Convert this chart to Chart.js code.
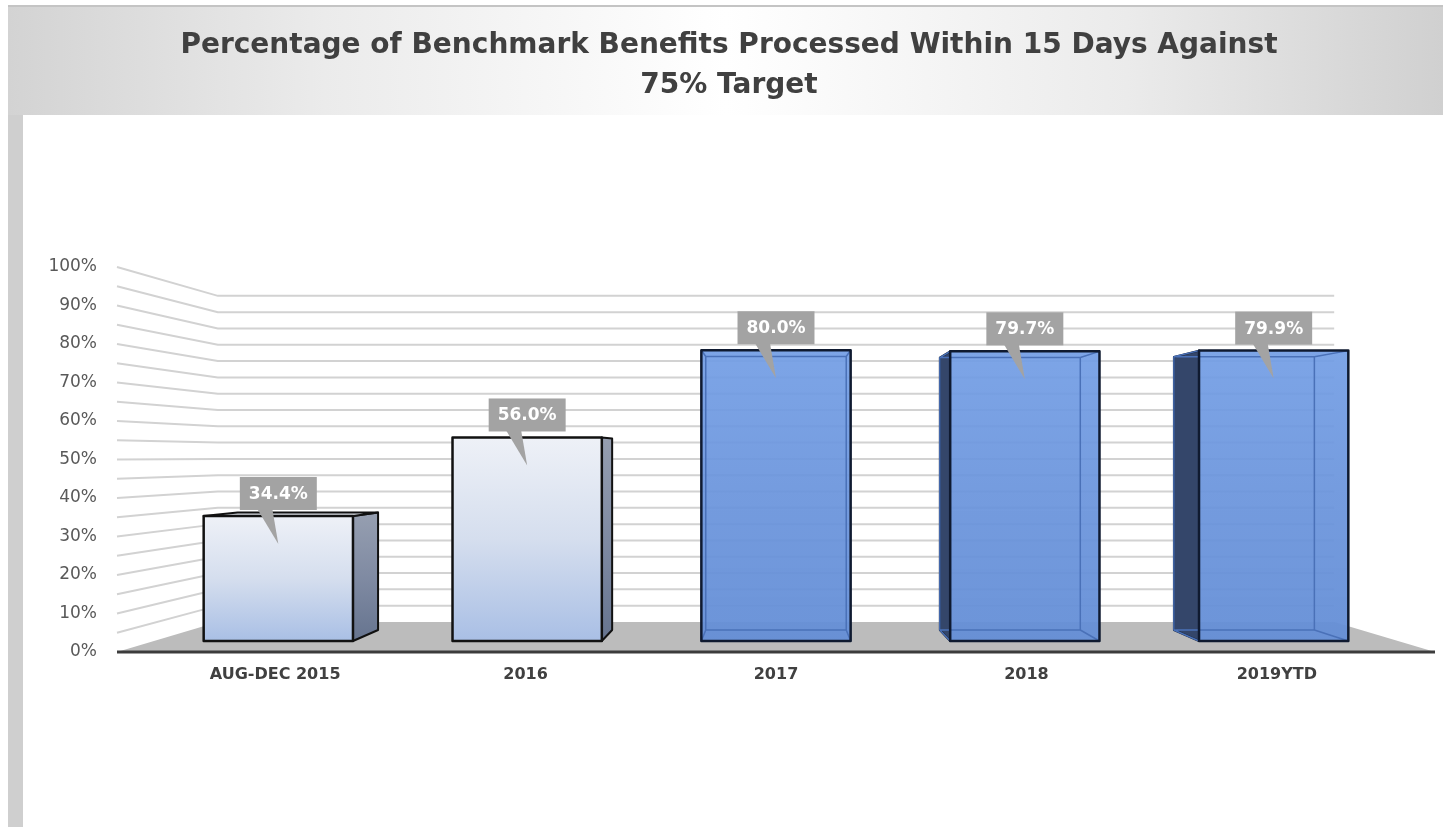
<!DOCTYPE html>
<html>
<head>
<meta charset="utf-8">
<script src="https://cdn.jsdelivr.net/npm/chart.js@4.4.1/dist/chart.umd.min.js"></script>
<style>
  html, body { margin: 0; padding: 0; background: #fff; }
  body { width: 1443px; height: 827px; position: relative; overflow: hidden; }
  .header {
    position: absolute; left: 8px; top: 5px; width: 1435px; height: 110px;
    box-sizing: border-box; border-top: 2px solid #c4c4c4;
    background: linear-gradient(to right, #d3d3d3 0%, #ebebeb 22%, #ffffff 50%, #ebebeb 78%, #d0d0d0 100%);
  }
  .strip { position: absolute; left: 8px; top: 115px; width: 15px; height: 712px; background: #cfcfcf; }
  #chart { position: absolute; left: 0; top: 0; }
</style>
</head>
<body>
<div class="header"></div>
<div class="strip"></div>
<canvas id="chart" width="1443" height="827"></canvas>
<script>
const categories = ['AUG-DEC 2015', '2016', '2017', '2018', '2019YTD'];
const percentages = [34.4, 56.0, 80.0, 79.7, 79.9];
const target = 75;
const titleLines = ['Percentage of Benchmark Benefits Processed Within 15 Days Against', '75% Target'];

// fake 3D: every point is pulled toward a vanishing point by a depth factor
const view = { eyeValue: 51, wall: 0.847, barFront: 0.944, barBack: 0.888, labels: 0.95 };

function vanishing(chart) {
  const { left, right } = chart.chartArea;
  return { vx: (left + right) / 2, vy: chart.scales.y.getPixelForValue(view.eyeValue) };
}

function project(chart, x, y, s) {
  const { vx, vy } = vanishing(chart);
  return [vx + (x - vx) * s, vy + (y - vy) * s];
}

function poly(ctx, pts, fill, stroke, lw) {
  ctx.beginPath();
  ctx.moveTo(pts[0][0], pts[0][1]);
  for (let i = 1; i < pts.length; i++) ctx.lineTo(pts[i][0], pts[i][1]);
  ctx.closePath();
  if (fill) { ctx.fillStyle = fill; ctx.fill(); }
  if (stroke) { ctx.strokeStyle = stroke; ctx.lineWidth = lw || 2; ctx.lineJoin = 'round'; ctx.stroke(); }
}

function vgrad(ctx, y0, y1, stops) {
  const g = ctx.createLinearGradient(0, y0, 0, y1);
  stops.forEach((c, i) => g.addColorStop(i / (stops.length - 1), c));
  return g;
}

const wallsAndBoxes = {
  id: 'wallsAndBoxes',
  beforeDatasetsDraw(chart) {
    const ctx = chart.ctx;
    const { left, right, bottom } = chart.chartArea;
    const ys = chart.scales.y;
    ctx.save();

    // floor
    const bl = project(chart, left, bottom, view.wall);
    const br = project(chart, right, bottom, view.wall);
    poly(ctx, [[left, bottom], bl, br, [right, bottom]], '#bcbcbc');

    // side + back wall grid lines
    ctx.strokeStyle = '#d2d2d2';
    ctx.lineWidth = 2;
    ys.ticks.forEach(t => {
      if (t.value === 0) return;
      const py = ys.getPixelForValue(t.value);
      const a = project(chart, left, py, view.wall);
      const b = project(chart, right, py, view.wall);
      ctx.beginPath();
      ctx.moveTo(left, py);
      ctx.lineTo(a[0], a[1]);
      ctx.lineTo(b[0], b[1]);
      ctx.stroke();
    });

    // front edge of floor
    ctx.strokeStyle = '#3c3c3c';
    ctx.lineWidth = 3;
    ctx.beginPath();
    ctx.moveTo(left, bottom);
    ctx.lineTo(right, bottom);
    ctx.stroke();
    ctx.restore();
  },

  afterDatasetsDraw(chart) {
    const ctx = chart.ctx;
    const { vx, vy } = vanishing(chart);
    const meta = chart.getDatasetMeta(0);
    const callouts = [];
    ctx.save();

    meta.data.forEach((bar, i) => {
      const { x, y, base, width } = bar.getProps(['x', 'y', 'base', 'width'], true);
      const L = x - width / 2, R = x + width / 2;
      const f = (px, py) => project(chart, px, py, view.barFront);
      const b = (px, py) => project(chart, px, py, view.barBack);
      const ftl = f(L, y), ftr = f(R, y), fbl = f(L, base), fbr = f(R, base);
      const btl = b(L, y), btr = b(R, y), bbl = b(L, base), bbr = b(R, base);
      const onTarget = percentages[i] >= target;

      if (onTarget) {
        if (L > vx) poly(ctx, [ftl, btl, bbl, fbl], '#34466a', '#111a2c', 2);
        if (R < vx) poly(ctx, [ftr, btr, bbr, fbr], '#34466a', '#111a2c', 2);
        poly(ctx, [ftl, ftr, fbr, fbl],
          vgrad(ctx, ftl[1], fbl[1], ['rgba(115,158,229,0.93)', 'rgba(106,148,220,0.93)', 'rgba(100,142,214,0.95)']));
        // back edges show through the glassy box
        ctx.strokeStyle = '#4a71b8';
        ctx.lineWidth = 1.5;
        ctx.beginPath();
        ctx.moveTo(btl[0], btl[1]); ctx.lineTo(btr[0], btr[1]); ctx.lineTo(bbr[0], bbr[1]);
        ctx.lineTo(bbl[0], bbl[1]); ctx.closePath();
        [[ftl, btl], [ftr, btr], [fbl, bbl], [fbr, bbr]].forEach(([p, q]) => {
          ctx.moveTo(p[0], p[1]); ctx.lineTo(q[0], q[1]);
        });
        ctx.stroke();
        poly(ctx, [ftl, ftr, fbr, fbl], null, '#0f1a30', 2.5);
      } else {
        const side = vgrad(ctx, ftl[1], fbl[1], ['#959eb0', '#7f8aa2', '#66748f']);
        if (R < vx) poly(ctx, [ftr, btr, bbr, fbr], side, '#111', 2);
        if (L > vx) poly(ctx, [ftl, btl, bbl, fbl], side, '#111', 2);
        if (ftl[1] > vy) poly(ctx, [ftl, ftr, btr, btl], '#dfe3ea', '#111', 2);
        poly(ctx, [ftl, ftr, fbr, fbl],
          vgrad(ctx, ftl[1], fbl[1], ['#eef1f7', '#d5deee', '#a9bfe5']), '#111', 2.5);
      }
      callouts.push({ cx: (ftl[0] + ftr[0]) / 2, top: ftl[1], text: percentages[i].toFixed(1) + '%' });
    });

    // value callouts
    ctx.font = 'bold 17px "DejaVu Sans"';
    ctx.textAlign = 'center';
    ctx.textBaseline = 'middle';
    callouts.forEach(c => {
      const bw = ctx.measureText(c.text).width + 18, bh = 33;
      const by = c.top - 6 - bh;
      ctx.fillStyle = '#a3a3a3';
      ctx.fillRect(c.cx - bw / 2, by, bw, bh);
      ctx.beginPath();
      ctx.moveTo(c.cx - 21, by + bh - 1);
      ctx.lineTo(c.cx - 6, by + bh - 1);
      ctx.lineTo(c.cx, c.top + 28);
      ctx.closePath();
      ctx.fill();
      ctx.fillStyle = '#ffffff';
      ctx.fillText(c.text, c.cx, by + bh / 2 + 1);
    });

    // category labels, pulled in a little like the 3D floor
    const xs = chart.scales.x;
    const bottom = chart.chartArea.bottom;
    ctx.font = 'bold 16px "DejaVu Sans"';
    ctx.fillStyle = '#404040';
    categories.forEach((c, i) => {
      const [lx] = project(chart, xs.getPixelForValue(i), bottom, view.labels);
      ctx.fillText(c, lx, bottom + 23);
    });
    ctx.restore();
  }
};

new Chart(document.getElementById('chart'), {
  type: 'bar',
  data: {
    labels: categories,
    datasets: [{
      data: percentages,
      backgroundColor: 'rgba(0,0,0,0)',
      borderWidth: 0,
      categoryPercentage: 1,
      barPercentage: 0.6
    }]
  },
  options: {
    responsive: false,
    animation: false,
    layout: { padding: { left: 23, right: 8, top: 0, bottom: 175 } },
    scales: {
      x: { display: false },
      y: {
        min: 0,
        max: 100,
        border: { display: false },
        grid: { display: false, drawTicks: false },
        ticks: {
          stepSize: 5,
          autoSkip: false,
          padding: 20,
          color: '#595959',
          font: { family: 'DejaVu Sans', size: 17 },
          callback: v => (v % 10 === 0 ? v + '%' : '')
        },
        afterFit: s => { s.width = 94; }
      }
    },
    plugins: {
      legend: { display: false },
      tooltip: { enabled: false },
      title: {
        display: true,
        text: titleLines,
        color: '#404040',
        font: { family: 'DejaVu Sans', size: 28, weight: 'bold', lineHeight: 40 / 28 },
        padding: { top: 26, bottom: 161 }
      }
    }
  },
  plugins: [wallsAndBoxes]
});
</script>
</body>
</html>
